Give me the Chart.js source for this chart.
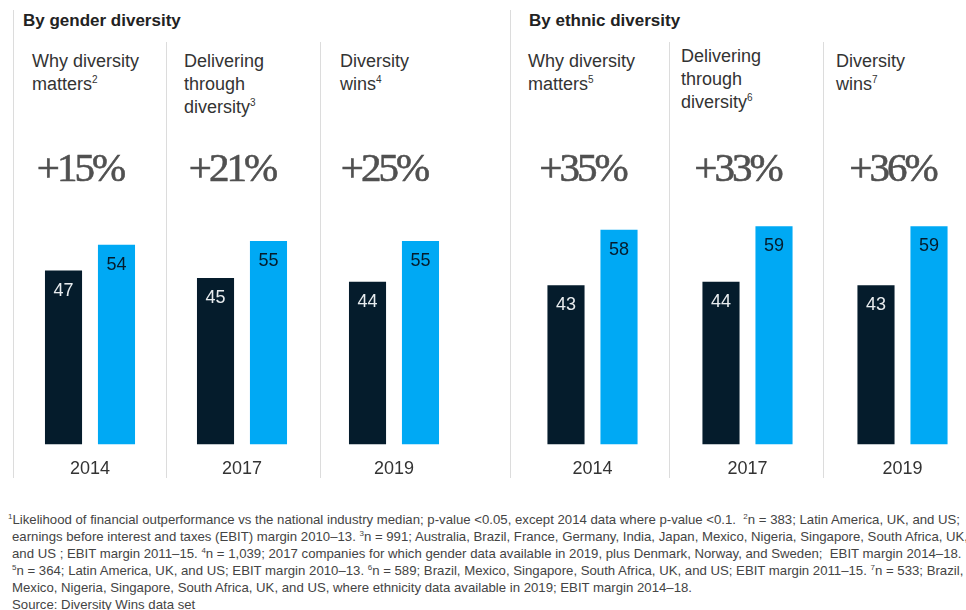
<!DOCTYPE html>
<html>
<head>
<meta charset="utf-8">
<script src="https://cdn.jsdelivr.net/npm/chart.js@4.4.1/dist/chart.umd.min.js"></script>
<style>
  html, body { margin: 0; padding: 0; background: #fff; }
  #wrap { position: relative; width: 966px; height: 610px; overflow: hidden; font-family: "Liberation Sans", Arial, sans-serif; color: #333; }
  .rule { position: absolute; width: 1px; background: #dcdcdc; }
  .head { position: absolute; top: 11px; font-size: 17px; line-height: 20px; font-weight: bold; color: #222; white-space: nowrap; }
  .title { position: absolute; font-size: 18px; line-height: 23px; color: #333; white-space: nowrap; }
  .title sup { font-size: 10px; line-height: 0; vertical-align: 7px; }
  .notes sup { font-size: 8px; line-height: 0; vertical-align: 5px; }
  canvas { position: absolute; top: 130px; }
  .notes { position: absolute; left: 12px; top: 511px; width: 1000px; font-size: 13.2px; line-height: 17px; color: #444; white-space: nowrap; }
</style>
</head>
<body>
<div id="wrap">
  <div class="rule" style="left:13px; top:10px; height:468px"></div>
  <div class="rule" style="left:166px; top:42px; height:436px"></div>
  <div class="rule" style="left:320px; top:42px; height:436px"></div>
  <div class="rule" style="left:510px; top:10px; height:468px"></div>
  <div class="rule" style="left:669px; top:42px; height:436px"></div>
  <div class="rule" style="left:823px; top:42px; height:436px"></div>

  <div class="head" style="left:23px">By gender diversity</div>
  <div class="head" style="left:529px">By ethnic diversity</div>

  <div class="title" style="left:32px; top:50px">Why diversity<br>matters<sup>2</sup></div>
  <div class="title" style="left:184px; top:50px">Delivering<br>through<br>diversity<sup>3</sup></div>
  <div class="title" style="left:340px; top:50px">Diversity<br>wins<sup>4</sup></div>
  <div class="title" style="left:528px; top:50px">Why diversity<br>matters<sup>5</sup></div>
  <div class="title" style="left:681px; top:45px">Delivering<br>through<br>diversity<sup>6</sup></div>
  <div class="title" style="left:836px; top:50px">Diversity<br>wins<sup>7</sup></div>

  <canvas id="genderChart" width="456" height="364" style="left:14px"></canvas>
  <canvas id="ethnicChart" width="465" height="364" style="left:515px"></canvas>

  <div class="notes">
    <div style="margin-left:-4px"><sup>1</sup>Likelihood of financial outperformance vs the national industry median; p-value &lt;0.05, except 2014 data where p-value &lt;0.1.&nbsp; <sup>2</sup>n = 383; Latin America, UK, and US;</div>
    <div>earnings before interest and taxes (EBIT) margin 2010–13. <sup>3</sup>n = 991; Australia, Brazil, France, Germany, India, Japan, Mexico, Nigeria, Singapore, South Africa, UK,</div>
    <div>and US ; EBIT margin 2011–15. <sup>4</sup>n = 1,039; 2017 companies for which gender data available in 2019, plus Denmark, Norway, and Sweden;&nbsp; EBIT margin 2014–18.</div>
    <div><sup>5</sup>n = 364; Latin America, UK, and US; EBIT margin 2010–13. <sup>6</sup>n = 589; Brazil, Mexico, Singapore, South Africa, UK, and US; EBIT margin 2011–15. <sup>7</sup>n = 533; Brazil,</div>
    <div>Mexico, Nigeria, Singapore, South Africa, UK, and US, where ethnicity data available in 2019; EBIT margin 2014–18.</div>
    <div>Source: Diversity Wins data set</div>
  </div>
</div>

<script>
// values, % likelihood of outperformance
var years = ['2014', '2017', '2019'];
var genderBottom = [47, 45, 44];
var genderTop = [54, 55, 55];
var genderLift = ['+15%', '+21%', '+25%'];
var ethnicBottom = [43, 44, 43];
var ethnicTop = [58, 59, 59];
var ethnicLift = ['+35%', '+33%', '+36%'];

var NAVY = '#051c2c';
var BLUE = '#00a9f4';

// numbers inside the bars and the big "+x%" above each pair
var labelPlugin = {
    id: 'labels',
    afterDatasetsDraw: function(chart) {
        var ctx = chart.ctx;
        ctx.save();
        ctx.textAlign = 'center';
        ctx.textBaseline = 'middle';
        ctx.font = '18px "Liberation Sans", Arial, sans-serif';
        chart.data.datasets.forEach(function(ds, d) {
            chart.getDatasetMeta(d).data.forEach(function(bar, i) {
                ctx.fillStyle = d === 0 ? '#e8ecef' : NAVY;
                ctx.fillText(ds.data[i], bar.x, bar.y + 20);
            });
        });

        var lifts = chart.options.plugins.labels.lifts;
        var xs = chart.scales.x;
        ctx.font = '41px "Liberation Serif", "DejaVu Serif", serif';
        ctx.letterSpacing = '-3px';
        ctx.textBaseline = 'alphabetic';
        ctx.fillStyle = '#505050';
        ctx.strokeStyle = '#505050';
        ctx.lineWidth = 0.6;
        for (var i = 0; i < lifts.length; i++) {
            ctx.fillText(lifts[i], xs.getPixelForValue(i) - 10, 51);
            ctx.strokeText(lifts[i], xs.getPixelForValue(i) - 10, 51);
        }
        ctx.restore();
    }
};

function makeConfig(bottom, top, lifts, catPct) {
    return {
        type: 'bar',
        data: {
            labels: years,
            datasets: [{
                    label: 'Bottom quartile',
                    data: bottom,
                    backgroundColor: NAVY,
                    categoryPercentage: catPct,
                    barPercentage: 0.7
                },
                {
                    label: 'Top quartile',
                    data: top,
                    backgroundColor: BLUE,
                    categoryPercentage: catPct,
                    barPercentage: 0.7
                }
            ]
        },
        options: {
            responsive: false,
            animation: false,
            layout: { padding: 0 },
            plugins: {
                legend: { display: false },
                tooltip: { enabled: false },
                labels: { lifts: lifts }
            },
            scales: {
                x: {
                    grid: { display: false, drawTicks: false },
                    border: { display: false },
                    ticks: {
                        padding: 14,
                        color: '#333',
                        font: { size: 18, family: '"Liberation Sans", Arial, sans-serif' }
                    }
                },
                y: {
                    display: false,
                    min: 0,
                    max: 85
                }
            }
        },
        plugins: [labelPlugin]
    };
}

window.addEventListener('load', function() {
    new Chart(document.getElementById('genderChart').getContext('2d'),
        makeConfig(genderBottom, genderTop, genderLift, 0.697));
    new Chart(document.getElementById('ethnicChart').getContext('2d'),
        makeConfig(ethnicBottom, ethnicTop, ethnicLift, 0.684));
});
</script>
</body>
</html>
